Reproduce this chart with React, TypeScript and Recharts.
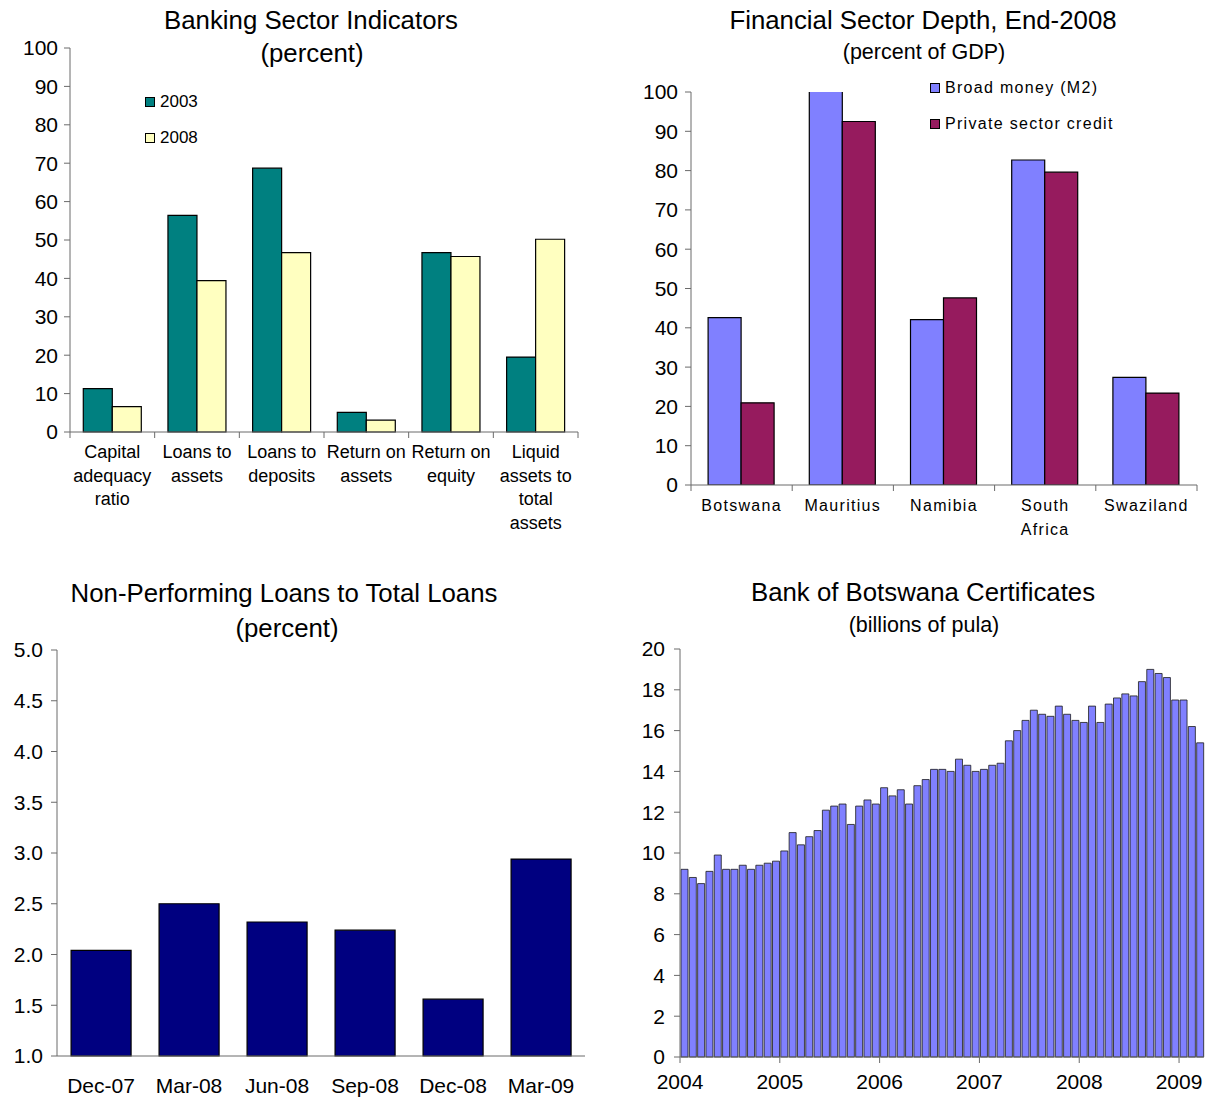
import { BarChart, Bar, XAxis, YAxis, Legend } from 'recharts';

const FONT = "'Liberation Sans', Arial, sans-serif";
const AXIS_COLOR = '#6b6b6b';

// Banking Sector Indicators (percent)
const BANK_CATEGORIES = [
  'Capital\nadequacy\nratio',
  'Loans to\nassets',
  'Loans to\ndeposits',
  'Return on\nassets',
  'Return on\nequity',
  'Liquid\nassets to\ntotal\nassets',
];
const BANK_2003 = [11.3, 56.4, 68.7, 5.1, 46.7, 19.5];
const BANK_2008 = [6.6, 39.4, 46.7, 3.1, 45.7, 50.2];
const BANK_TICKS = [0, 10, 20, 30, 40, 50, 60, 70, 80, 90, 100];

// Financial Sector Depth, End-2008 (percent of GDP)
const COUNTRIES = ['Botswana', 'Mauritius', 'Namibia', 'South\nAfrica', 'Swaziland'];
const BROAD_MONEY = [42.6, 101, 42.1, 82.7, 27.4];
const PRIVATE_CREDIT = [20.9, 92.5, 47.6, 79.6, 23.4];
const DEPTH_TICKS = [0, 10, 20, 30, 40, 50, 60, 70, 80, 90, 100];

// Non-Performing Loans to Total Loans (percent)
const NPL_QUARTERS = ['Dec-07', 'Mar-08', 'Jun-08', 'Sep-08', 'Dec-08', 'Mar-09'];
const NPL_VALUES = [2.04, 2.5, 2.32, 2.24, 1.56, 2.94];
const NPL_TICKS = [1, 1.5, 2, 2.5, 3, 3.5, 4, 4.5, 5];

// Bank of Botswana Certificates (billions of pula), monthly Jan-2004 .. Mar-2009
const CERT_VALUES = [
  9.2, 8.8, 8.5, 9.1, 9.9, 9.2, 9.2, 9.4, 9.2, 9.4, 9.5, 9.6,
  10.1, 11.0, 10.4, 10.8, 11.1, 12.1, 12.3, 12.4, 11.4, 12.3, 12.6, 12.4,
  13.2, 12.8, 13.1, 12.4, 13.3, 13.6, 14.1, 14.1, 14.0, 14.6, 14.3, 14.0,
  14.1, 14.3, 14.4, 15.5, 16.0, 16.5, 17.0, 16.8, 16.7, 17.2, 16.8, 16.5,
  16.4, 17.2, 16.4, 17.3, 17.6, 17.8, 17.7, 18.4, 19.0, 18.8, 18.6, 17.5,
  17.5, 16.2, 15.4,
];
const CERT_YEARS = ['2004', '2005', '2006', '2007', '2008', '2009'];
const CERT_TICKS = [0, 2, 4, 6, 8, 10, 12, 14, 16, 18, 20];

const bankData = BANK_CATEGORIES.map((name, i) => ({ name, y2003: BANK_2003[i], y2008: BANK_2008[i] }));
const depthData = COUNTRIES.map((name, i) => ({ name, m2: BROAD_MONEY[i], credit: PRIVATE_CREDIT[i] }));
const nplData = NPL_QUARTERS.map((name, i) => ({ name, value: NPL_VALUES[i] }));
const certData = CERT_VALUES.map((value, i) => ({ month: i + 0.5, value }));
const yearTicks = CERT_YEARS.map((_, i) => i * 12);

const tickStyle = { fontSize: 21, fill: '#000', fontFamily: FONT };

// category label with tick marks on the category boundaries (Excel style)
function CategoryTick(props: any) {
  const { x, y, payload, index, band, count, fontSize, lineHeight, labelOffset, letterSpacing } = props;
  const lines = String(payload.value).split('\n');
  const left = x - band / 2;
  return (
    <g>
      <line x1={left} y1={y} x2={left} y2={y + 6} stroke={AXIS_COLOR} />
      {index === count - 1 && <line x1={left + band} y1={y} x2={left + band} y2={y + 6} stroke={AXIS_COLOR} />}
      <text
        x={x}
        y={y + labelOffset}
        textAnchor="middle"
        dominantBaseline="central"
        fontSize={fontSize}
        fontFamily={FONT}
        letterSpacing={letterSpacing}
        fill="#000"
      >
        {lines.map((line, i) => (
          <tspan key={i} x={x} dy={i === 0 ? 0 : lineHeight}>
            {line}
          </tspan>
        ))}
      </text>
    </g>
  );
}

function BoxLegend(props: any) {
  const { payload = [], fontSize, rowHeight, letterSpacing } = props;
  return (
    <div style={{ fontFamily: FONT, fontSize, letterSpacing, color: '#000' }}>
      {payload.map((item: any) => (
        <div key={item.value} style={{ display: 'flex', alignItems: 'center', height: rowHeight }}>
          <span
            style={{
              width: 8,
              height: 8,
              background: item.color,
              border: '1px solid #000',
              marginRight: 5,
              display: 'inline-block',
            }}
          />
          <span>{item.value}</span>
        </div>
      ))}
    </div>
  );
}

function Title({ text, cx, top, size }: { text: string; cx: number; top: number; size: number }) {
  return (
    <div
      style={{
        position: 'absolute',
        left: cx - 300,
        top,
        width: 600,
        textAlign: 'center',
        fontSize: size,
        lineHeight: 1.15,
        whiteSpace: 'nowrap',
        color: '#000',
      }}
    >
      {text}
    </div>
  );
}

function BankingChart() {
  const band = (600 - 70 - 22) / BANK_CATEGORIES.length;
  return (
    <BarChart width={600} height={540} data={bankData} margin={{ top: 48, right: 22, bottom: 8, left: 0 }} barCategoryGap="15.7%" barGap={0}>
      <YAxis
        width={70}
        domain={[0, 100]}
        ticks={BANK_TICKS}
        interval={0}
        stroke={AXIS_COLOR}
        tickSize={6}
        tickMargin={6}
        tick={tickStyle}
      />
      <XAxis
        dataKey="name"
        height={100}
        interval={0}
        stroke={AXIS_COLOR}
        tickLine={false}
        tickSize={0}
        tickMargin={0}
        tick={<CategoryTick band={band} count={BANK_CATEGORIES.length} fontSize={18} lineHeight={23.7} labelOffset={20} />}
      />
      <Legend
        layout="vertical"
        align="center"
        verticalAlign="middle"
        wrapperStyle={{ top: 84, left: 145, width: 'auto' }}
        content={<BoxLegend fontSize={17} rowHeight={36} />}
      />
      <Bar dataKey="y2003" name="2003" fill="#008080" stroke="#000" strokeWidth={1.2} isAnimationActive={false} />
      <Bar dataKey="y2008" name="2008" fill="#FFFFC0" stroke="#000" strokeWidth={1.2} isAnimationActive={false} />
    </BarChart>
  );
}

function DepthChart() {
  const band = (616 - 91 - 19) / COUNTRIES.length;
  return (
    <BarChart width={616} height={540} data={depthData} margin={{ top: 92, right: 19, bottom: 5, left: 0 }} barCategoryGap="16.9%" barGap={0}>
      <YAxis
        width={91}
        domain={[0, 100]}
        allowDataOverflow
        ticks={DEPTH_TICKS}
        interval={0}
        stroke={AXIS_COLOR}
        tickSize={6}
        tickMargin={7}
        tick={tickStyle}
      />
      <XAxis
        dataKey="name"
        height={50}
        interval={0}
        stroke={AXIS_COLOR}
        tickLine={false}
        tickSize={0}
        tickMargin={0}
        tick={<CategoryTick band={band} count={COUNTRIES.length} fontSize={16} lineHeight={24} labelOffset={20} letterSpacing={1.3} />}
      />
      <Legend
        layout="vertical"
        align="center"
        verticalAlign="middle"
        wrapperStyle={{ top: 70, left: 330, width: 'auto' }}
        content={<BoxLegend fontSize={16} rowHeight={36} letterSpacing={1.3} />}
      />
      <Bar dataKey="m2" name="Broad money (M2)" fill="#8080FF" stroke="#000" strokeWidth={1.2} isAnimationActive={false} />
      <Bar dataKey="credit" name="Private sector credit" fill="#961B5E" stroke="#000" strokeWidth={1.2} isAnimationActive={false} />
    </BarChart>
  );
}

function NplChart() {
  return (
    <BarChart width={600} height={539} data={nplData} margin={{ top: 90, right: 15, bottom: 3, left: 0 }} barCategoryGap="16%">
      <YAxis
        width={57}
        domain={[1, 5]}
        ticks={NPL_TICKS}
        interval={0}
        stroke={AXIS_COLOR}
        tickSize={6}
        tickMargin={8}
        tick={tickStyle}
        tickFormatter={(v: number) => v.toFixed(1)}
      />
      <XAxis
        dataKey="name"
        height={40}
        interval={0}
        stroke={AXIS_COLOR}
        tickLine={false}
        tickSize={0}
        tickMargin={22}
        tick={tickStyle}
      />
      <Bar dataKey="value" fill="#000080" stroke="#000" strokeWidth={1.2} isAnimationActive={false} />
    </BarChart>
  );
}

function CertChart() {
  return (
    <BarChart width={616} height={539} data={certData} margin={{ top: 89, right: 12, bottom: 3, left: 0 }}>
      <YAxis
        width={80}
        domain={[0, 20]}
        ticks={CERT_TICKS}
        interval={0}
        stroke={AXIS_COLOR}
        tickSize={6}
        tickMargin={9}
        tick={tickStyle}
      />
      <XAxis
        dataKey="month"
        type="number"
        domain={[0, CERT_VALUES.length]}
        ticks={yearTicks}
        interval={0}
        height={39}
        stroke={AXIS_COLOR}
        tickSize={6}
        tickMargin={11}
        tick={tickStyle}
        tickFormatter={(v: number) => CERT_YEARS[Math.round(v / 12)]}
      />
      <Bar dataKey="value" barSize={7} fill="#8080FF" stroke="#1a1a1a" strokeWidth={0.8} isAnimationActive={false} />
    </BarChart>
  );
}

export default function App() {
  return (
    <div
      style={{
        position: 'absolute',
        left: 0,
        top: 0,
        width: 1216,
        height: 1099,
        background: '#fff',
        fontFamily: FONT,
      }}
    >
      <div style={{ position: 'absolute', left: 0, top: 0 }}>
        <BankingChart />
      </div>
      <div style={{ position: 'absolute', left: 600, top: 0 }}>
        <DepthChart />
      </div>
      <div style={{ position: 'absolute', left: 0, top: 560 }}>
        <NplChart />
      </div>
      <div style={{ position: 'absolute', left: 600, top: 560 }}>
        <CertChart />
      </div>

      <Title text="Banking Sector Indicators" cx={311} top={6} size={25.8} />
      <Title text="(percent)" cx={312} top={39} size={25.8} />
      <Title text="Financial Sector Depth, End-2008" cx={923} top={6} size={25.8} />
      <Title text="(percent of GDP)" cx={924} top={40} size={21.5} />
      <Title text="Non-Performing Loans to Total Loans" cx={284} top={579} size={25.8} />
      <Title text="(percent)" cx={287} top={614} size={25.8} />
      <Title text="Bank of Botswana Certificates" cx={923} top={578} size={25.8} />
      <Title text="(billions of pula)" cx={924} top={613} size={21.5} />
    </div>
  );
}
